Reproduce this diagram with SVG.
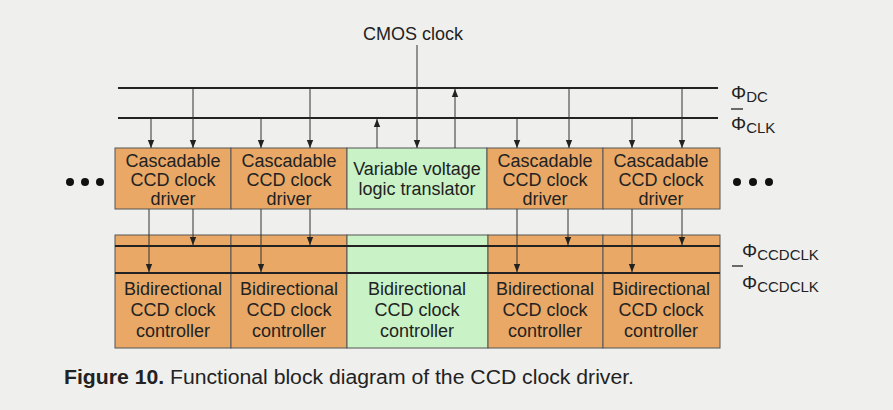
<svg xmlns="http://www.w3.org/2000/svg" width="893" height="410" viewBox="0 0 893 410">
<defs>
<marker id="ah" viewBox="0 0 8 8" refX="8" refY="4" markerWidth="8" markerHeight="8" markerUnits="userSpaceOnUse" orient="auto">
<path d="M0,0.8 L8,4 L0,7.2 z" fill="#222"/>
</marker>
<style>
.t{font-family:"Liberation Sans",Arial,sans-serif;font-size:18px;fill:#222;text-anchor:middle}
.lb{font-family:"Liberation Sans",Arial,sans-serif;fill:#222}
.or{fill:#e9a866;stroke:#555;stroke-width:1}
.gr{fill:#c9f2c6;stroke:#555;stroke-width:1}
.bus{stroke:#222;stroke-width:2;fill:none}
.c{stroke:#333;stroke-width:1;fill:none;marker-end:url(#ah)}
.dot{fill:#111}
</style>
</defs>
<rect width="893" height="410" fill="#efefed"/>

<g id="buses">
<line class="bus" x1="118" y1="88" x2="718" y2="88"/>
<line class="bus" x1="118" y1="118" x2="718" y2="118"/>
</g>

<g id="cmos-clock">
<text class="t" x="413" y="40">CMOS clock</text>
</g>

<g id="driver1"><rect class="or" x="115" y="148" width="116" height="61"/>
<text class="t"><tspan x="173" y="167">Cascadable</tspan><tspan x="173" y="186">CCD clock</tspan><tspan x="173" y="205">driver</tspan></text></g>
<g id="driver2"><rect class="or" x="231" y="148" width="116" height="61"/>
<text class="t"><tspan x="289" y="167">Cascadable</tspan><tspan x="289" y="186">CCD clock</tspan><tspan x="289" y="205">driver</tspan></text></g>
<g id="translator"><rect class="gr" x="347" y="148" width="140" height="61"/>
<text class="t"><tspan x="417" y="175">Variable voltage</tspan><tspan x="417" y="195">logic translator</tspan></text></g>
<g id="driver3"><rect class="or" x="487" y="148" width="116" height="61"/>
<text class="t"><tspan x="545" y="167">Cascadable</tspan><tspan x="545" y="186">CCD clock</tspan><tspan x="545" y="205">driver</tspan></text></g>
<g id="driver4"><rect class="or" x="603" y="148" width="117" height="61"/>
<text class="t"><tspan x="661" y="167">Cascadable</tspan><tspan x="661" y="186">CCD clock</tspan><tspan x="661" y="205">driver</tspan></text></g>

<g id="controller1"><rect class="or" x="115" y="235" width="116" height="113"/>
<text class="t"><tspan x="173" y="295">Bidirectional</tspan><tspan x="173" y="316">CCD clock</tspan><tspan x="173" y="337">controller</tspan></text></g>
<g id="controller2"><rect class="or" x="231" y="235" width="116" height="113"/>
<text class="t"><tspan x="289" y="295">Bidirectional</tspan><tspan x="289" y="316">CCD clock</tspan><tspan x="289" y="337">controller</tspan></text></g>
<g id="controller3"><rect class="gr" x="347" y="235" width="141" height="113"/>
<text class="t"><tspan x="417" y="295">Bidirectional</tspan><tspan x="417" y="316">CCD clock</tspan><tspan x="417" y="337">controller</tspan></text></g>
<g id="controller4"><rect class="or" x="488" y="235" width="115" height="113"/>
<text class="t"><tspan x="545" y="295">Bidirectional</tspan><tspan x="545" y="316">CCD clock</tspan><tspan x="545" y="337">controller</tspan></text></g>
<g id="controller5"><rect class="or" x="603" y="235" width="117" height="113"/>
<text class="t"><tspan x="661" y="295">Bidirectional</tspan><tspan x="661" y="316">CCD clock</tspan><tspan x="661" y="337">controller</tspan></text></g>

<g id="ccd-buses">
<line class="bus" x1="115" y1="246" x2="720" y2="246"/>
<line class="bus" x1="115" y1="273" x2="720" y2="273"/>
</g>

<g id="dots-left"><circle class="dot" cx="70" cy="182" r="4"/><circle class="dot" cx="85" cy="182" r="4"/><circle class="dot" cx="100" cy="182" r="4"/></g>
<g id="dots-right"><circle class="dot" cx="737" cy="182" r="4"/><circle class="dot" cx="753" cy="182" r="4"/><circle class="dot" cx="769" cy="182" r="4"/></g>

<g id="connectors">
<line class="c" x1="151" y1="119" x2="151" y2="148"/>
<line class="c" x1="193" y1="89" x2="193" y2="148"/>
<line class="c" x1="261" y1="119" x2="261" y2="148"/>
<line class="c" x1="310" y1="89" x2="310" y2="148"/>
<line class="c" x1="377" y1="148" x2="377" y2="119"/>
<line class="c" x1="417" y1="45" x2="417" y2="148"/>
<line class="c" x1="455" y1="148" x2="455" y2="89"/>
<line class="c" x1="517" y1="119" x2="517" y2="148"/>
<line class="c" x1="569" y1="89" x2="569" y2="148"/>
<line class="c" x1="632" y1="119" x2="632" y2="148"/>
<line class="c" x1="682" y1="89" x2="682" y2="148"/>

<line class="c" x1="149" y1="209" x2="149" y2="272"/>
<line class="c" x1="193" y1="209" x2="193" y2="245"/>
<line class="c" x1="261" y1="209" x2="261" y2="272"/>
<line class="c" x1="310" y1="209" x2="310" y2="245"/>
<line class="c" x1="517" y1="209" x2="517" y2="272"/>
<line class="c" x1="568" y1="209" x2="568" y2="245"/>
<line class="c" x1="632" y1="209" x2="632" y2="272"/>
<line class="c" x1="682" y1="209" x2="682" y2="245"/>
</g>

<g id="labels">
<text class="lb" x="731" y="99" font-size="19">Φ<tspan font-size="15" dy="3">DC</tspan></text>
<line x1="731" y1="109" x2="743" y2="109" stroke="#222" stroke-width="1.3"/>
<text class="lb" x="731" y="130" font-size="19">Φ<tspan font-size="15" dy="3">CLK</tspan></text>
<text class="lb" x="742" y="257" font-size="19">Φ<tspan font-size="15" dy="3">CCDCLK</tspan></text>
<line x1="732" y1="266" x2="743" y2="266" stroke="#222" stroke-width="1.3"/>
<text class="lb" x="742" y="289" font-size="19">Φ<tspan font-size="15" dy="3">CCDCLK</tspan></text>
</g>

<g id="caption">
<text class="lb" x="64" y="384" font-size="20" textLength="570" lengthAdjust="spacingAndGlyphs"><tspan font-weight="bold">Figure 10.</tspan> Functional block diagram of the CCD clock driver.</text>
</g>
</svg>
